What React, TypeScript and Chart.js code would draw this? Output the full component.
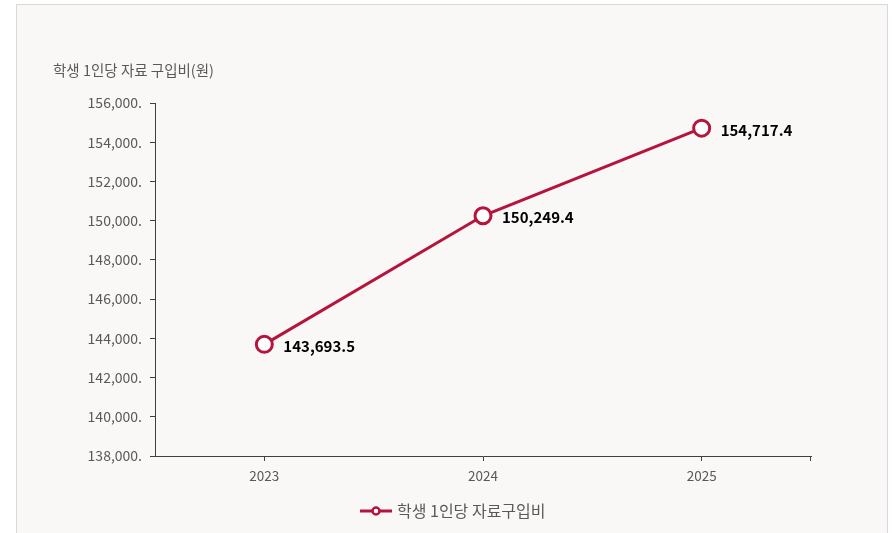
import React, { useEffect, useRef } from "react";
import { Chart, registerables } from "chart.js";

Chart.register(...registerables);

const categories = ["2023", "2024", "2025"];
const seriesName = "학생 1인당 자료구입비";
const seriesValues = [143693.5, 150249.4, 154717.4];
const valueLabels = ["143,693.5", "150,249.4", "154,717.4"];
const yTitle = "학생 1인당 자료 구입비(원)";
const yMin = 138000;
const yMax = 156000;
const yStep = 2000;

const LINE = "#b5153c";
const FONT = "'Noto Sans CJK KR', 'Noto Sans', sans-serif";
const GRAY = "#595959";

export default function App() {
  const ref = useRef<HTMLCanvasElement | null>(null);

  useEffect(() => {
    document.body.style.margin = "0";
    const canvas = ref.current;
    if (!canvas) return;

    const decor = {
      id: "decor",
      beforeDraw(chart: any) {
        const ctx = chart.ctx;
        ctx.save();
        ctx.fillStyle = "#ffffff";
        ctx.fillRect(0, 0, chart.width, chart.height);
        ctx.fillStyle = "#f9f8f7";
        ctx.fillRect(16.5, 4.5, 871, 540);
        ctx.strokeStyle = "#d9d9d9";
        ctx.lineWidth = 1;
        ctx.strokeRect(16.5, 4.5, 871, 540);
        ctx.restore();
      },
      afterDraw(chart: any) {
        const ctx = chart.ctx;
        const area = chart.chartArea;
        ctx.save();
        // y title
        ctx.fillStyle = GRAY;
        ctx.font = `14.5px ${FONT}`;
        ctx.textAlign = "left";
        ctx.textBaseline = "middle";
        ctx.fillText(yTitle, 53, 70);
        // end tick on x axis
        ctx.strokeStyle = "#404040";
        ctx.lineWidth = 1;
        ctx.beginPath();
        ctx.moveTo(Math.round(area.right) - 0.5, area.bottom);
        ctx.lineTo(Math.round(area.right) - 0.5, area.bottom + 5);
        ctx.stroke();
        // data labels
        const meta = chart.getDatasetMeta(0);
        ctx.fillStyle = "#000000";
        ctx.font = `bold 15px ${FONT}`;
        ctx.textAlign = "left";
        ctx.textBaseline = "middle";
        meta.data.forEach((pt: any, i: number) => {
          ctx.fillText(valueLabels[i], pt.x + 19, pt.y + 2);
        });
        // legend
        const ly = 511;
        const lx = 360;
        ctx.strokeStyle = LINE;
        ctx.lineWidth = 3;
        ctx.beginPath();
        ctx.moveTo(lx, ly);
        ctx.lineTo(lx + 32, ly);
        ctx.stroke();
        ctx.fillStyle = "#ffffff";
        ctx.lineWidth = 2.5;
        ctx.beginPath();
        ctx.arc(lx + 16, ly, 3.5, 0, Math.PI * 2);
        ctx.fill();
        ctx.stroke();
        ctx.fillStyle = GRAY;
        ctx.font = `16px ${FONT}`;
        ctx.textAlign = "left";
        ctx.textBaseline = "middle";
        ctx.fillText(seriesName, lx + 37, ly);
        ctx.restore();
      },
    };

    const chart = new Chart(canvas, {
      type: "line",
      data: {
        labels: categories,
        datasets: [
          {
            label: seriesName,
            data: seriesValues,
            borderColor: LINE,
            borderWidth: 3,
            backgroundColor: "#ffffff",
            pointRadius: 8,
            pointBorderWidth: 3,
            pointBorderColor: LINE,
            pointBackgroundColor: "#ffffff",
            tension: 0,
          },
        ],
      },
      options: {
        responsive: false,
        animation: false,
        layout: { padding: { left: 0, right: 81, top: 103, bottom: 47 } },
        plugins: {
          legend: { display: false },
          tooltip: { enabled: false },
          title: { display: false },
        },
        scales: {
          x: {
            type: "category",
            offset: true,
            afterFit(scale: any) {
              scale.height = 30;
            },
            grid: {
              display: true,
              offset: false,
              drawOnChartArea: false,
              drawTicks: true,
              tickLength: 5,
              color: "#404040",
            },
            border: { display: true, color: "#404040", width: 1 },
            ticks: {
              color: GRAY,
              font: { family: FONT, size: 13.5 },
              padding: 7,
              maxRotation: 0,
            },
          },
          y: {
            type: "linear",
            min: yMin,
            max: yMax,
            afterFit(scale: any) {
              scale.width = 155;
            },
            grid: {
              display: true,
              drawOnChartArea: false,
              drawTicks: true,
              tickLength: 5,
              color: "#404040",
            },
            border: { display: true, color: "#404040", width: 1 },
            ticks: {
              stepSize: yStep,
              color: GRAY,
              font: { family: FONT, size: 14 },
              padding: 8,
              callback: (v: any) => Number(v).toLocaleString("en-US") + ".",
            },
          },
        },
      },
      plugins: [decor],
    });

    return () => chart.destroy();
  }, []);

  return (
    <div style={{ width: 892, height: 533, position: "relative" }}>
      <canvas ref={ref} width={892} height={533} style={{ display: "block" }} />
    </div>
  );
}
